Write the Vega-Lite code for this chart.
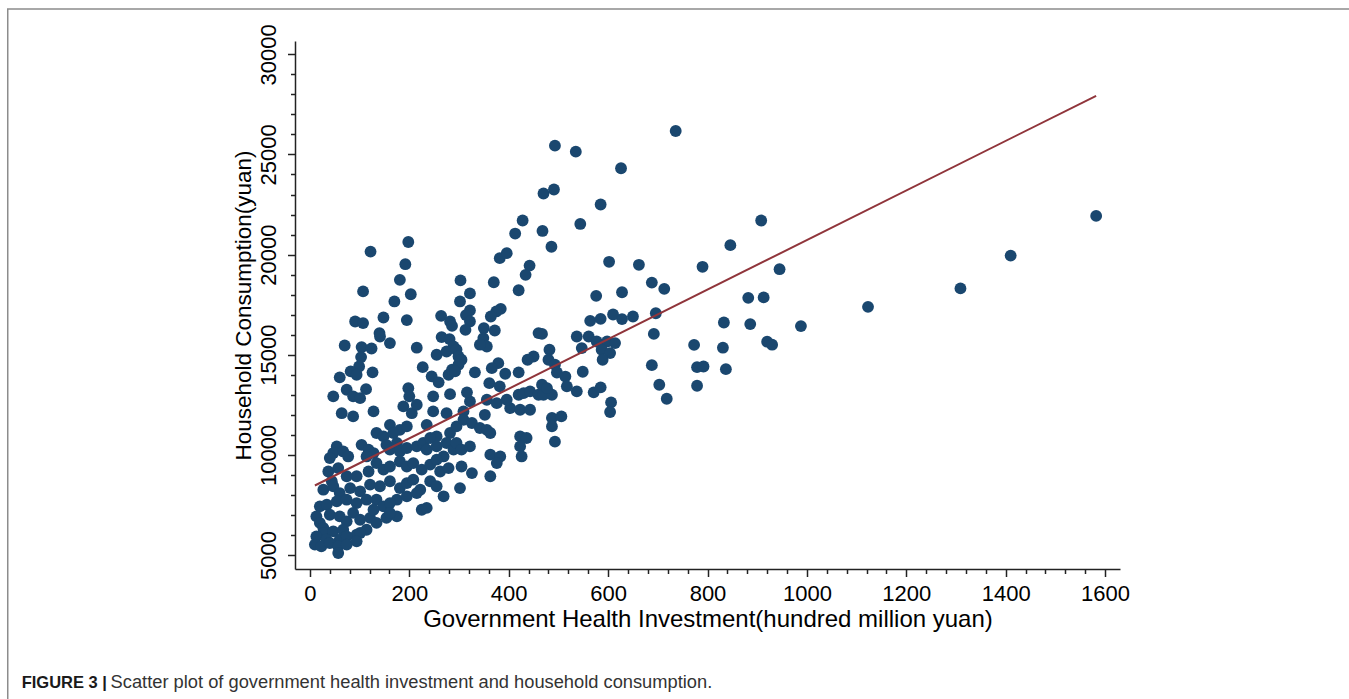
{
  "$schema": "https://vega.github.io/schema/vega-lite/v6.json",
  "width": 825,
  "height": 528,
  "autosize": "none",
  "padding": {"left": 295, "top": 41, "right": 229, "bottom": 130},
  "background": "white",
  "config": {"view": {"stroke": null}, "font": "Liberation Sans"},
  "datasets": {
    "pts": [
      {"inv":64,"cons":12080},{"inv":87,"cons":11920},{"inv":128,"cons":12170},{"inv":188,"cons":12420},{"inv":205,"cons":12080},{"inv":215,"cons":12500},{"inv":248,"cons":12170},{"inv":275,"cons":12080},{"inv":309,"cons":12170},{"inv":322,"cons":12670},{"inv":356,"cons":12750},{"inv":376,"cons":12580},{"inv":352,"cons":12000},{"inv":403,"cons":12330},{"inv":423,"cons":12250},{"inv":443,"cons":12250},{"inv":396,"cons":12750},
      {"inv":161,"cons":11500},{"inv":235,"cons":11500},{"inv":181,"cons":11250},{"inv":195,"cons":11420},{"inv":134,"cons":11090},{"inv":148,"cons":10920},{"inv":168,"cons":11090},{"inv":255,"cons":10920},{"inv":282,"cons":11090},{"inv":295,"cons":11420},{"inv":309,"cons":11750},{"inv":326,"cons":11590},{"inv":342,"cons":11340},{"inv":363,"cons":11090},{"inv":356,"cons":11250},{"inv":423,"cons":10920},{"inv":436,"cons":10840},
      {"inv":54,"cons":10420},{"inv":47,"cons":10090},{"inv":67,"cons":10170},{"inv":77,"cons":9920},{"inv":40,"cons":9840},{"inv":104,"cons":10500},{"inv":118,"cons":10260},{"inv":128,"cons":10090},{"inv":114,"cons":9920},{"inv":154,"cons":10500},{"inv":161,"cons":10260},{"inv":175,"cons":10590},{"inv":181,"cons":10170},{"inv":195,"cons":10340},{"inv":215,"cons":10420},{"inv":228,"cons":10590},{"inv":242,"cons":10840},{"inv":235,"cons":10260},{"inv":255,"cons":10420},{"inv":275,"cons":10590},{"inv":289,"cons":10260},{"inv":269,"cons":9920},{"inv":295,"cons":10590},{"inv":305,"cons":10260},{"inv":322,"cons":10420},{"inv":363,"cons":10010},{"inv":383,"cons":9920},{"inv":423,"cons":10420},{"inv":426,"cons":9920},
      {"inv":37,"cons":9170},{"inv":57,"cons":9340},{"inv":74,"cons":8930},{"inv":94,"cons":8930},{"inv":118,"cons":9170},{"inv":134,"cons":9590},{"inv":148,"cons":9260},{"inv":161,"cons":9420},{"inv":181,"cons":9670},{"inv":195,"cons":9420},{"inv":208,"cons":9590},{"inv":225,"cons":9260},{"inv":242,"cons":9510},{"inv":255,"cons":9760},{"inv":262,"cons":9170},{"inv":279,"cons":9340},{"inv":305,"cons":9420},{"inv":326,"cons":9090},{"inv":363,"cons":8930},{"inv":376,"cons":9590},{"inv":44,"cons":8680},
      {"inv":27,"cons":8260},{"inv":47,"cons":8430},{"inv":60,"cons":8090},{"inv":81,"cons":8340},{"inv":101,"cons":8180},{"inv":121,"cons":8510},{"inv":141,"cons":8430},{"inv":161,"cons":8680},{"inv":181,"cons":8340},{"inv":195,"cons":8590},{"inv":208,"cons":8760},{"inv":222,"cons":8260},{"inv":242,"cons":8680},{"inv":255,"cons":8430},{"inv":269,"cons":7930},{"inv":302,"cons":8340},{"inv":175,"cons":7760},
      {"inv":20,"cons":7430},{"inv":34,"cons":7510},{"inv":54,"cons":7680},{"inv":74,"cons":7760},{"inv":94,"cons":7590},{"inv":114,"cons":7760},{"inv":134,"cons":7760},{"inv":148,"cons":7430},{"inv":161,"cons":7590},{"inv":195,"cons":7930},{"inv":215,"cons":8090},{"inv":225,"cons":7260},{"inv":235,"cons":7350},{"inv":175,"cons":6930},
      {"inv":13,"cons":6930},{"inv":20,"cons":6600},{"inv":27,"cons":6350},{"inv":40,"cons":7010},{"inv":60,"cons":6930},{"inv":74,"cons":6680},{"inv":87,"cons":7100},{"inv":101,"cons":6760},{"inv":121,"cons":6850},{"inv":134,"cons":6600},{"inv":154,"cons":6850},{"inv":161,"cons":7100},{"inv":128,"cons":7260},{"inv":27,"cons":6100},{"inv":47,"cons":6180},{"inv":67,"cons":6260},{"inv":94,"cons":6010},{"inv":114,"cons":6260},{"inv":13,"cons":5930},{"inv":33,"cons":5770},{"inv":60,"cons":5770},{"inv":74,"cons":5930},{"inv":101,"cons":6100},
      {"inv":10,"cons":5520},{"inv":23,"cons":5430},{"inv":40,"cons":5600},{"inv":57,"cons":5430},{"inv":74,"cons":5520},{"inv":94,"cons":5680},{"inv":57,"cons":5100},
      {"inv":122,"cons":20150},{"inv":192,"cons":19520},{"inv":181,"cons":18740},{"inv":203,"cons":18020},{"inv":170,"cons":17660},{"inv":195,"cons":16730},{"inv":107,"cons":18160},{"inv":303,"cons":18710},{"inv":322,"cons":18060},{"inv":302,"cons":17660},{"inv":322,"cons":17210},{"inv":314,"cons":16980},{"inv":370,"cons":18620},{"inv":382,"cons":19820},{"inv":396,"cons":20070},{"inv":442,"cons":19450},{"inv":434,"cons":18990},{"inv":420,"cons":18220},{"inv":384,"cons":17290},{"inv":375,"cons":17160},{"inv":364,"cons":16910},{"inv":264,"cons":16940},{"inv":282,"cons":16660},{"inv":286,"cons":16440},{"inv":322,"cons":16660},{"inv":313,"cons":16240},{"inv":350,"cons":16330},{"inv":372,"cons":16210},{"inv":91,"cons":16660},{"inv":107,"cons":16580},{"inv":148,"cons":16860},{"inv":140,"cons":16080},{"inv":161,"cons":15580},{"inv":141,"cons":15910},{"inv":70,"cons":15460},{"inv":104,"cons":15380},{"inv":124,"cons":15310},{"inv":215,"cons":15350},{"inv":265,"cons":15880},{"inv":281,"cons":15780},{"inv":289,"cons":15410},{"inv":255,"cons":15000},{"inv":275,"cons":15160},{"inv":295,"cons":15250},{"inv":299,"cons":14910},{"inv":305,"cons":14750},{"inv":349,"cons":15830},{"inv":356,"cons":15410},{"inv":342,"cons":15500},{"inv":379,"cons":14580},{"inv":450,"cons":14910},{"inv":438,"cons":14750},{"inv":460,"cons":16080},{"inv":103,"cons":14880},{"inv":99,"cons":14410},{"inv":82,"cons":14170},{"inv":60,"cons":13870},{"inv":94,"cons":14000},{"inv":126,"cons":14120},{"inv":227,"cons":14380},{"inv":245,"cons":13920},{"inv":259,"cons":13620},{"inv":279,"cons":14000},{"inv":286,"cons":14250},{"inv":299,"cons":14500},{"inv":292,"cons":14170},{"inv":332,"cons":14120},{"inv":366,"cons":14330},{"inv":393,"cons":14050},{"inv":420,"cons":14120},{"inv":361,"cons":13580},{"inv":382,"cons":13420},{"inv":420,"cons":13000},{"inv":74,"cons":13250},{"inv":87,"cons":12920},{"inv":101,"cons":12830},{"inv":47,"cons":12920},{"inv":113,"cons":13280},{"inv":198,"cons":13330},{"inv":200,"cons":12920},{"inv":282,"cons":13030},{"inv":316,"cons":13120},{"inv":248,"cons":12920},{"inv":430,"cons":13080},{"inv":443,"cons":13170},{"inv":460,"cons":13000},
      {"inv":736,"cons":26170},{"inv":493,"cons":25440},{"inv":535,"cons":25140},{"inv":626,"cons":24310},{"inv":470,"cons":23050},{"inv":491,"cons":23250},{"inv":585,"cons":22500},{"inv":544,"cons":21530},{"inv":428,"cons":21700},{"inv":413,"cons":21050},{"inv":468,"cons":21180},{"inv":486,"cons":20390},{"inv":198,"cons":20630},{"inv":846,"cons":20470},{"inv":790,"cons":19390},{"inv":602,"cons":19640},{"inv":662,"cons":19490},
      {"inv":688,"cons":18600},{"inv":713,"cons":18290},{"inv":576,"cons":17940},{"inv":628,"cons":18120},{"inv":564,"cons":16690},{"inv":585,"cons":16790},{"inv":610,"cons":17010},{"inv":628,"cons":16780},{"inv":650,"cons":16910},{"inv":696,"cons":17070},{"inv":692,"cons":16040},{"inv":467,"cons":16040},{"inv":537,"cons":15910},{"inv":561,"cons":15910},{"inv":577,"cons":15660},{"inv":547,"cons":15330},{"inv":598,"cons":15660},{"inv":614,"cons":15580},{"inv":587,"cons":15250},{"inv":604,"cons":15080},{"inv":589,"cons":14750},{"inv":482,"cons":15250},{"inv":480,"cons":14750},{"inv":493,"cons":14500},{"inv":497,"cons":14110},{"inv":514,"cons":13910},{"inv":517,"cons":13420},{"inv":537,"cons":13170},{"inv":549,"cons":14150},{"inv":467,"cons":13500},{"inv":470,"cons":13000},{"inv":487,"cons":13000},{"inv":477,"cons":13330},{"inv":571,"cons":13120},{"inv":585,"cons":13370},{"inv":606,"cons":12620},{"inv":604,"cons":12140},{"inv":487,"cons":11840},{"inv":506,"cons":11920},{"inv":487,"cons":11420},{"inv":493,"cons":10660},{"inv":688,"cons":14480},{"inv":703,"cons":13500},{"inv":718,"cons":12800},{"inv":773,"cons":15490},{"inv":779,"cons":14380},{"inv":792,"cons":14410},{"inv":779,"cons":13450},{"inv":831,"cons":15350},{"inv":837,"cons":14280},{"inv":833,"cons":16610},
      {"inv":908,"cons":21700},{"inv":945,"cons":19270},{"inv":882,"cons":17840},{"inv":913,"cons":17860},{"inv":886,"cons":16530},{"inv":988,"cons":16430},{"inv":920,"cons":15650},{"inv":930,"cons":15500},{"inv":1123,"cons":17390},{"inv":1309,"cons":18310},{"inv":1410,"cons":19950},{"inv":1582,"cons":21930}
    ],
    "fit": [
      {"inv":10,"cons":8470},
      {"inv":1582,"cons":27930}
    ]
  },
  "resolve": {"scale": {"x": "independent", "y": "independent"}, "axis": {"x": "independent", "y": "independent"}},
  "layer": [
    {
      "data": {"name": "pts"},
      "mark": {"type": "circle", "size": 140, "color": "#1a476f", "opacity": 1},
      "encoding": {
        "x": {
          "field": "inv", "type": "quantitative",
          "scale": {"domain": [-30, 1630], "nice": false, "zero": false},
          "axis": {
            "orient": "bottom",
            "values": [0,200,400,600,800,1000,1200,1400,1600],
            "format": "d",
            "tickSize": 7.5, "tickWidth": 1.5, "tickColor": "#222222",
            "domainColor": "#222222", "domainWidth": 1.5,
            "grid": false,
            "labelFont": "Liberation Sans", "labelFontSize": 22, "labelColor": "#000000",
            "labelPadding": 7, "labelOverlap": false, "labelFlush": false, "labelBound": false,
            "title": "Government Health Investment(hundred million yuan)",
            "titleFont": "Liberation Sans", "titleFontSize": 24, "titleFontWeight": "normal", "titleColor": "#000000",
            "titlePadding": 3
          }
        },
        "y": {
          "field": "cons", "type": "quantitative",
          "scale": {"domain": [4300, 30665], "nice": false, "zero": false},
          "axis": {
            "orient": "left",
            "values": [5000,10000,15000,20000,25000,30000],
            "format": "d",
            "tickSize": 7.5, "tickWidth": 1.5, "tickColor": "#222222",
            "domainColor": "#222222", "domainWidth": 1.5,
            "grid": false,
            "labelFont": "Liberation Sans", "labelFontSize": 22, "labelColor": "#000000",
            "labelAngle": -90, "labelAlign": "center", "labelBaseline": "alphabetic",
            "labelPadding": 12, "labelOverlap": false, "labelFlush": false, "labelBound": false,
            "title": "Household Consumption(yuan)",
            "titleFont": "Liberation Sans", "titleFontSize": 22.5, "titleFontWeight": "normal", "titleColor": "#000000",
            "titlePadding": 2
          }
        }
      }
    },
    {
      "data": {"name": "fit"},
      "mark": {"type": "line", "color": "#90353b", "strokeWidth": 2},
      "encoding": {
        "x": {
          "field": "inv", "type": "quantitative",
          "scale": {"domain": [-30, 1630], "nice": false, "zero": false},
          "axis": {
            "orient": "bottom",
            "values": [40,80,120,160,240,280,320,360,440,480,520,560,640,680,720,760,840,880,920,960,1040,1080,1120,1160,1240,1280,1320,1360,1440,1480,1520,1560],
            "labels": false, "domain": false, "grid": false, "title": null,
            "tickSize": 4.5, "tickWidth": 1.5, "tickColor": "#222222"
          }
        },
        "y": {
          "field": "cons", "type": "quantitative",
          "scale": {"domain": [4300, 30665], "nice": false, "zero": false},
          "axis": {
            "orient": "left",
            "values": [6000,7000,8000,9000,11000,12000,13000,14000,16000,17000,18000,19000,21000,22000,23000,24000,26000,27000,28000,29000],
            "labels": false, "domain": false, "grid": false, "title": null,
            "tickSize": 4.5, "tickWidth": 1.5, "tickColor": "#222222"
          }
        }
      }
    },
    {
      "data": {"values": [{}]},
      "mark": {"type": "rect", "fillOpacity": 0, "stroke": "#8c8c8c", "strokeWidth": 1.5, "clip": false},
      "encoding": {
        "x": {"datum": -608, "type": "quantitative", "scale": {"domain": [-30, 1630], "nice": false, "zero": false}, "axis": null},
        "x2": {"datum": 6000},
        "y": {"datum": 32260, "type": "quantitative", "scale": {"domain": [4300, 30665], "nice": false, "zero": false}, "axis": null},
        "y2": {"datum": -9000}
      }
    },
    {
      "data": {"values": [{}]},
      "mark": {"type": "text", "text": "FIGURE 3 |", "font": "Liberation Sans", "fontSize": 16.5, "fontWeight": "bold", "color": "#1a1a1a", "align": "left", "baseline": "alphabetic", "clip": false},
      "encoding": {
        "x": {"datum": -580, "type": "quantitative", "scale": {"domain": [-30, 1630], "nice": false, "zero": false}, "axis": null},
        "y": {"datum": -1620, "type": "quantitative", "scale": {"domain": [4300, 30665], "nice": false, "zero": false}, "axis": null}
      }
    },
    {
      "data": {"values": [{}]},
      "mark": {"type": "text", "text": "Scatter plot of government health investment and household consumption.", "font": "Liberation Sans", "fontSize": 18.3, "color": "#333333", "align": "left", "baseline": "alphabetic", "clip": false},
      "encoding": {
        "x": {"datum": -401, "type": "quantitative", "scale": {"domain": [-30, 1630], "nice": false, "zero": false}, "axis": null},
        "y": {"datum": -1620, "type": "quantitative", "scale": {"domain": [4300, 30665], "nice": false, "zero": false}, "axis": null}
      }
    }
  ]
}
